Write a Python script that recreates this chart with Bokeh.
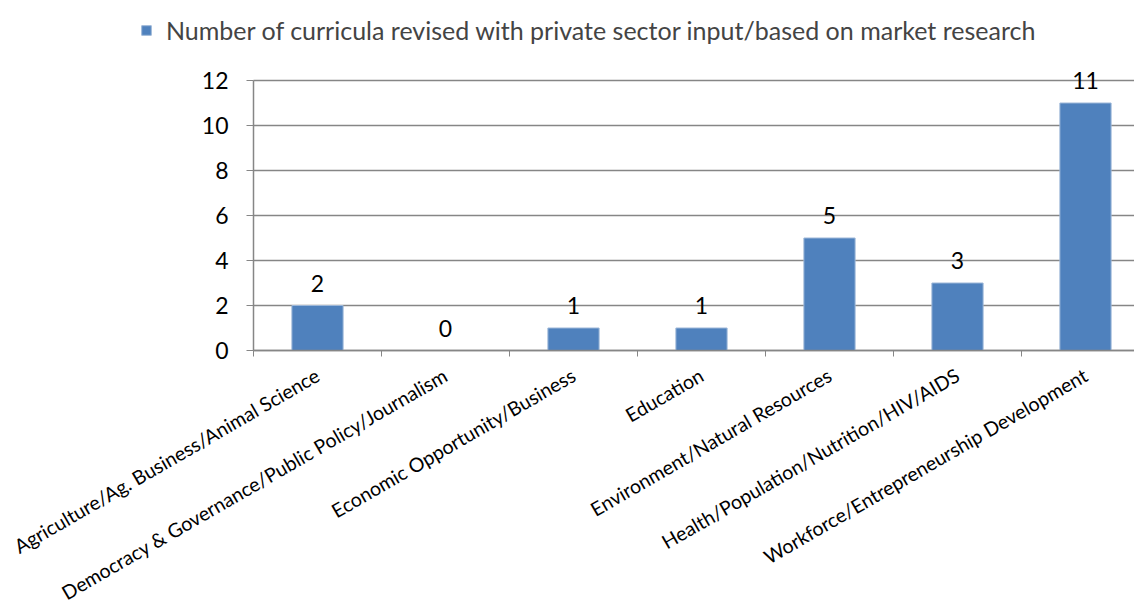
from bokeh.plotting import figure
from bokeh.models import ColumnDataSource, Range1d, FixedTicker, Legend, LegendItem, LabelSet, Grid
from bokeh.core.properties import value
from bokeh.embed import file_html
from bokeh.resources import INLINE
import math

categories = [
    "Agriculture/Ag. Business/Animal Science",
    "Democracy & Governance/Public Policy/Journalism",
    "Economic Opportunity/Business",
    "Education",
    "Environment/Natural Resources",
    "Health/Population/Nutrition/HIV/AIDS",
    "Workforce/Entrepreneurship Development",
]
values = [2, 0, 1, 1, 5, 3, 11]
series_name = "Number of curricula revised with private sector input/based on market research"
y_ticks = [0, 2, 4, 6, 8, 10, 12]

FONT = "Lato"
BAR = "#4F81BD"
BAR_EDGE = "#9DB7D8"
GRID = "#868686"

# layout constants (pixels)
W, H = 1134, 602
CAT_PX = 128.0      # width of one category slot
UNIT_PX = 22.5      # pixels per y unit
LEFT_PX = 0         # left border (frame covers the whole page)
AXIS_X = 253        # x pixel of the value axis
AXIS_Y = 350        # y pixel of the category axis

n = len(categories)
xs = [i + 0.5 for i in range(n)]
src = ColumnDataSource(dict(x=xs, top=values, label=[str(v) for v in values]))

x_end = (W - AXIS_X) / CAT_PX
x_start = -(AXIS_X - LEFT_PX) / CAT_PX
y_end = AXIS_Y / UNIT_PX
y_start = -(H - AXIS_Y) / UNIT_PX

p = figure(
    frame_width=W - LEFT_PX, frame_height=H,
    x_range=Range1d(x_start, x_end), y_range=Range1d(y_start, y_end),
    output_backend="svg", toolbar_location=None,
    min_border_left=LEFT_PX, min_border_right=0, min_border_top=0, min_border_bottom=0,
)
p.outline_line_color = None
p.background_fill_color = "white"
p.border_fill_color = "white"

r = p.vbar(x="x", top="top", width=0.4, bottom=0, source=src,
           fill_color=BAR, line_color=BAR_EDGE, line_width=1)

labels = LabelSet(x="x", y="top", text="label", source=src, text_align="center",
                  text_baseline="bottom", y_offset=14, text_font=value(FONT),
                  text_font_size="23px", text_color="black")
p.add_layout(labels)

# x axis (placed at y = 0 inside the frame)
p.xaxis.fixed_location = 0
p.xaxis.bounds = (0, x_end)
p.xaxis.ticker = FixedTicker(ticks=xs, minor_ticks=list(range(n + 1)))
p.xaxis.major_label_overrides = {x: c for x, c in zip(xs, categories)}
p.xaxis.major_label_orientation = math.pi / 6
p.xaxis.major_tick_out = 0
p.xaxis.major_tick_in = 0
p.xaxis.minor_tick_out = 6
p.xaxis.minor_tick_in = 0
p.xaxis.minor_tick_line_color = GRID
p.xaxis.axis_line_color = GRID
p.xaxis.axis_line_width = 1.5
p.xaxis.major_label_text_font = FONT
p.xaxis.major_label_text_font_size = "19.6px"
p.xaxis.major_label_text_color = "black"
p.xaxis.major_label_standoff = 17

# y axis (placed at x = 0 inside the frame)
p.yaxis.fixed_location = 0
p.yaxis.ticker = FixedTicker(ticks=y_ticks)
p.yaxis.bounds = (0, 12)
p.yaxis.minor_tick_line_color = None
p.yaxis.major_tick_out = 7
p.yaxis.major_tick_in = 0
p.yaxis.major_tick_line_color = GRID
p.yaxis.axis_line_color = GRID
p.yaxis.axis_line_width = 1.5
p.yaxis.major_label_text_font = FONT
p.yaxis.major_label_text_font_size = "23px"
p.yaxis.major_label_text_color = "black"
p.yaxis.major_label_standoff = 18

p.xgrid.grid_line_color = None
if "cross_bounds" in Grid.properties():
    p.ygrid.ticker = FixedTicker(ticks=y_ticks)
    p.ygrid.bounds = (0, 12)
    p.ygrid.cross_bounds = (0, x_end)
    p.ygrid.grid_line_color = GRID
    p.ygrid.grid_line_width = 1.5
    p.ygrid.level = "underlay"
else:
    p.ygrid.grid_line_color = None
    p.segment(x0=[0] * len(y_ticks), x1=[x_end] * len(y_ticks), y0=y_ticks, y1=y_ticks,
              line_color=GRID, line_width=1.5, level="underlay")

legend = Legend(items=[LegendItem(label=series_name, renderers=[r])],
                location=(140 - LEFT_PX, H - 45), orientation="horizontal",
                label_text_font=FONT, label_text_font_size="25px", label_height=30,
                glyph_width=12, glyph_height=12, label_standoff=14,
                border_line_color=None, background_fill_alpha=0,
                margin=0, padding=8, spacing=0)
p.add_layout(legend, "center")

open("out.html", "w").write(file_html(p, INLINE))
